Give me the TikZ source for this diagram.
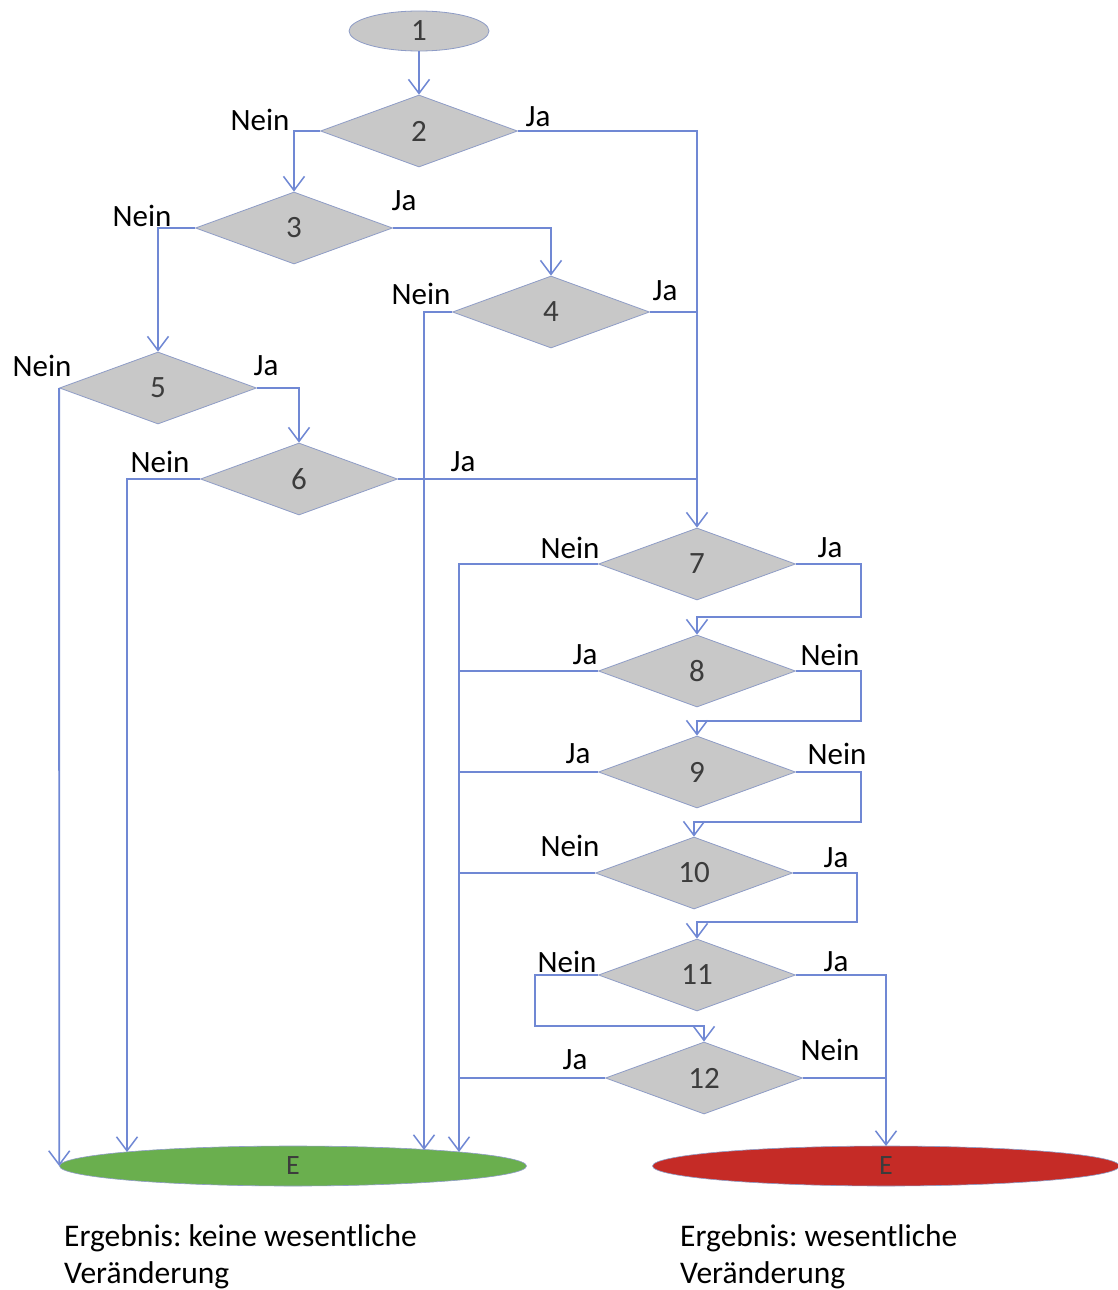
\documentclass[tikz,border=0pt]{standalone}
\usepackage{fontspec}
\setmainfont{Carlito}
\frenchspacing
\usetikzlibrary{shapes.geometric,arrows.meta}
\definecolor{lineblue}{HTML}{7088D4}
\definecolor{dgray}{HTML}{C8C8C8}
\definecolor{dborder}{HTML}{8E9CC6}
\definecolor{numgray}{HTML}{3C3C3C}
\definecolor{egreen}{HTML}{6AAF4E}
\definecolor{ered}{HTML}{C52B26}
\tikzset{
  dec/.style={diamond, draw=dborder, fill=dgray, line width=0.8pt, inner sep=0pt,
    minimum width=197pt, minimum height=72pt, text=numgray, font=\fontsize{31}{36}\selectfont},
  startell/.style={ellipse, draw=dborder, fill=dgray, line width=0.8pt, inner sep=0pt,
    minimum width=140pt, minimum height=40pt, text=numgray, font=\fontsize{31}{36}\selectfont},
  endell/.style={ellipse, draw=dborder, line width=0.6pt, inner sep=0pt,
    minimum width=467pt, minimum height=40pt, text=numgray, font=\fontsize{28}{32}\selectfont},
  lbl/.style={inner sep=0pt, text=black, font=\fontsize{31}{36}\selectfont},
  res/.style={inner sep=0pt, anchor=base west, text=black, font=\fontsize{31.5}{38}\selectfont\frenchspacing},
  conn/.style={draw=lineblue, line width=1.8pt},
  arr/.style={conn, -{Straight Barb[length=14pt,width=21pt,line width=1.5pt]}},
}
\begin{document}
\begin{tikzpicture}[x=1pt,y=-1pt]
\path[fill=white] (0,0) rectangle (1118,1290);
\useasboundingbox (0,0) rectangle (1118,1290);

% nodes
\node[startell] (s1) at (419,31) {1};
\node[dec] (d2) at (419,131) {2};
\node[dec] (d3) at (294,228) {3};
\node[dec] (d4) at (551,312) {4};
\node[dec] (d5) at (158,388) {5};
\node[dec] (d6) at (299,479) {6};
\node[dec] (d7) at (697,564) {7};
\node[dec] (d8) at (697,671) {8};
\node[dec] (d9) at (697,772) {9};
\node[dec] (d10) at (694,873) {10};
\node[dec] (d11) at (697,975) {11};
\node[dec] (d12) at (704,1078) {12};
\node[endell, fill=egreen] (eG) at (293,1166) {E};
\node[endell, fill=ered] (eR) at (886,1166) {E};

% coordinates for connector ends and bends
\coordinate (g127) at (127,1152);
\coordinate (g424) at (424,1150);
\coordinate (busL) at (459,1152);
\coordinate (rE) at (886,1146);
\coordinate (r7) at (861,617);
\coordinate (r8) at (861,721);
\coordinate (r9) at (861,822);
\coordinate (r10) at (857,922);
\coordinate (l11) at (535,1026);

% connectors
\draw[arr] (s1) -- (d2);
\draw[arr] (d2.west) -| (d3.north);
\draw[arr] (d2.east) -| (d7.north);
\draw[arr] (d3.west) -| (d5.north);
\draw[arr] (d3.east) -| (d4.north);
\draw[conn] (d4.east) -- (d4.east -| d7.north);
\draw[arr] (d4.west) -| (g424);
\draw[arr] (d5.west) -- (eG.west);
\draw[arr] (d5.east) -| (d6.north);
\draw[arr] (d6.west) -| (g127);
\draw[conn] (d6.east) -- (d6.east -| d7.north);
\draw[arr] (d7.west) -| (busL);
\draw[arr] (d7.east) -| (r7) -| (d8.north);
\draw[conn] (d8.west) -- (d8.west -| busL);
\draw[arr] (d8.east) -| (r8) -| (d9.north);
\draw[conn] (d9.west) -- (d9.west -| busL);
\draw[arr] (d9.east) -| (r9) -| (d10.north);
\draw[conn] (d10.west) -- (d10.west -| busL);
\draw[arr] (d10.east) -| (r10) -| (d11.north);
\draw[arr] (d11.west) -| (l11) -| (d12.north);
\draw[arr] (d11.east) -| (rE);
\draw[conn] (d12.west) -- (d12.west -| busL);
\draw[conn] (d12.east) -- (d12.east -| rE);

% labels
\node[lbl] (n2) at (260,120) {Nein};
\node[lbl] (j2) at (538,117) {Ja};
\node[lbl] (n3) at (142,216) {Nein};
\node[lbl] (j3) at (404,201) {Ja};
\node[lbl] (n4) at (421,294) {Nein};
\node[lbl] (j4) at (665,291) {Ja};
\node[lbl] (n5) at (42,366) {Nein};
\node[lbl] (j5) at (266,366) {Ja};
\node[lbl] (n6) at (160,462) {Nein};
\node[lbl] (j6) at (463,462) {Ja};
\node[lbl] (n7) at (570,548) {Nein};
\node[lbl] (j7) at (830,548) {Ja};
\node[lbl] (j8) at (585,655) {Ja};
\node[lbl] (n8) at (830,655) {Nein};
\node[lbl] (j9) at (578,754) {Ja};
\node[lbl] (n9) at (837,754) {Nein};
\node[lbl] (n10) at (570,846) {Nein};
\node[lbl] (j10) at (836,858) {Ja};
\node[lbl] (n11) at (567,962) {Nein};
\node[lbl] (j11) at (836,962) {Ja};
\node[lbl] (j12) at (575,1060) {Ja};
\node[lbl] (n12) at (830,1050) {Nein};

% result texts
\node[res] (rl1) at (64,1246) {Ergebnis: keine wesentliche};
\node[res] (rl2) at (64,1283) {Veränderung};
\node[res] (rr1) at (680,1246) {Ergebnis: wesentliche};
\node[res] (rr2) at (680,1283) {Veränderung};
\end{tikzpicture}
\end{document}
